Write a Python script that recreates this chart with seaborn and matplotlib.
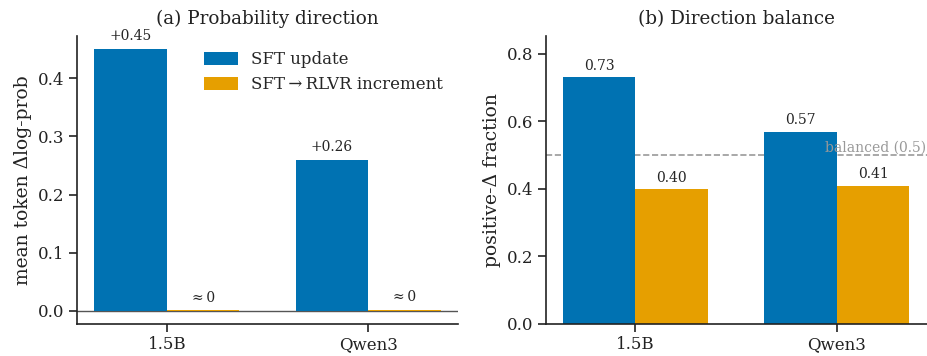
import matplotlib
matplotlib.use("Agg")
import matplotlib.pyplot as plt
import seaborn as sns
import pandas as pd

models = ["1.5B", "Qwen3"]
series = ["SFT update", "SFT\u2009\u2192\u2009RLVR increment"]
logprob_sft = [0.45, 0.26]
logprob_rlvr = [0.0008, 0.0020]
frac_sft = [0.73, 0.57]
frac_rlvr = [0.40, 0.41]
colors = ["#0072B2", "#E69F00"]

sns.set_theme(style="ticks")
plt.rcParams["font.family"] = ["DejaVu Serif"]
plt.rcParams["axes.edgecolor"] = "#222222"

df_a = pd.DataFrame({
    "model": models * 2,
    "series": [series[0]] * 2 + [series[1]] * 2,
    "value": logprob_sft + logprob_rlvr,
})
df_b = pd.DataFrame({
    "model": models * 2,
    "series": [series[0]] * 2 + [series[1]] * 2,
    "value": frac_sft + frac_rlvr,
})

fig = plt.figure(figsize=(9.28, 3.56), dpi=100)
ax1 = fig.add_axes([0.083, 0.09, 0.4105, 0.809])
ax2 = fig.add_axes([0.588, 0.09, 0.4105, 0.809])

for ax, df in ((ax1, df_a), (ax2, df_b)):
    sns.barplot(data=df, x="model", y="value", hue="series", palette=colors,
                width=0.72, gap=0, saturation=1, errorbar=None, ax=ax,
                linewidth=0)
    ax.set_xlim(-0.446, 1.446)
    ax.set_xlabel("")
    ax.tick_params(labelsize=12, length=5.5, width=1.2, color="#222222",
                   labelcolor="#222222")
    sns.despine(ax=ax)
    for sp in ("left", "bottom"):
        ax.spines[sp].set_linewidth(1.2)

offs = 0.18
# (a) mean log-prob shift
ax1.axhline(0, color="#555555", lw=1, zorder=0.5)
ax1.set_ylim(-0.0225, 0.4725)
ax1.set_yticks([0.0, 0.1, 0.2, 0.3, 0.4])
ax1.set_ylabel("mean token \u0394log-prob", fontsize=13.5, color="#222222")
ax1.set_title("(a) Probability direction", fontsize=13.2, color="#222222", pad=8.5)
for i, v in enumerate(logprob_sft):
    ax1.annotate(f"+{v:.2f}", (i - offs, v), xytext=(0, 4),
                 textcoords="offset points", ha="center", va="bottom", fontsize=10)
for i, v in enumerate(logprob_rlvr):
    ax1.annotate("\u2248\u20090", (i + offs, v), xytext=(0, 4),
                 textcoords="offset points", ha="center", va="bottom", fontsize=10)
ax1.legend(loc="upper right", frameon=False, fontsize=12, handlelength=2.0,
           handleheight=0.8, bbox_to_anchor=(1.0, 1.0))

# (b) fraction of tokens with positive shift
ax2.axhline(0.5, color="#999999", lw=1.2, ls="--", zorder=0.5)
ax2.text(1.446, 0.5, "balanced (0.5)", ha="right", va="bottom",
         color="#999999", fontsize=10)
ax2.set_ylim(0, 0.853)
ax2.set_yticks([0.0, 0.2, 0.4, 0.6, 0.8])
ax2.set_ylabel("positive-\u0394 fraction", fontsize=13.5, color="#222222")
ax2.set_title("(b) Direction balance", fontsize=13.2, color="#222222", pad=8.5)
for i, v in enumerate(frac_sft):
    ax2.annotate(f"{v:.2f}", (i - offs, v), xytext=(0, 3),
                 textcoords="offset points", ha="center", va="bottom", fontsize=10)
for i, v in enumerate(frac_rlvr):
    ax2.annotate(f"{v:.2f}", (i + offs, v), xytext=(0, 3),
                 textcoords="offset points", ha="center", va="bottom", fontsize=10)
leg = ax2.get_legend()
if leg is not None:
    leg.remove()

fig.savefig("out.png", dpi=100)
